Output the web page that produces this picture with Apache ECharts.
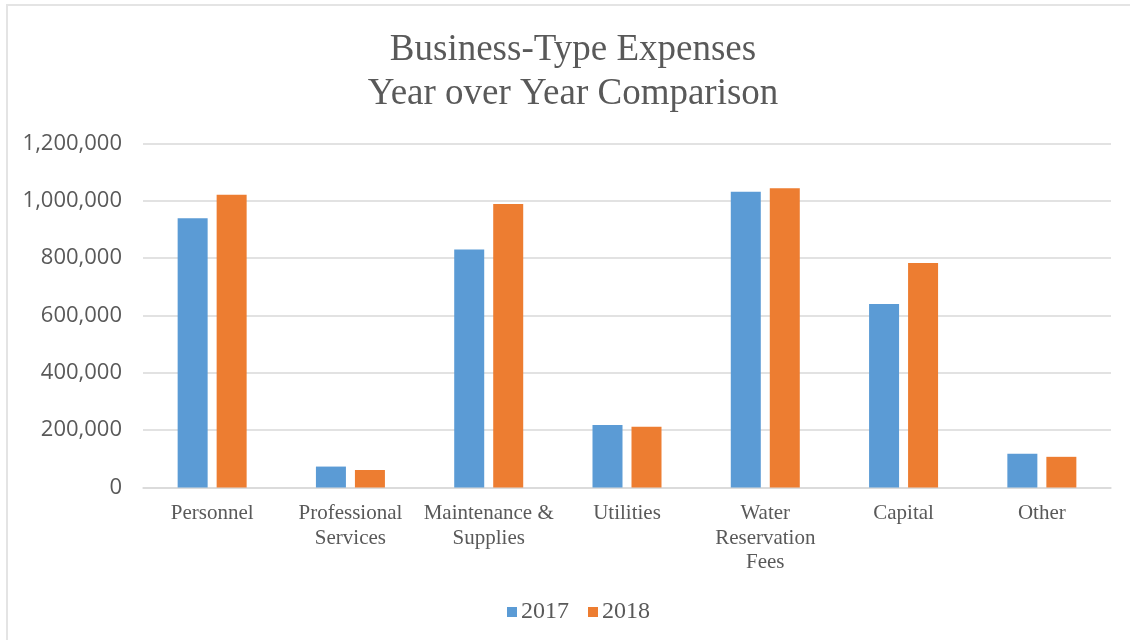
<!DOCTYPE html>
<html>
<head>
<meta charset="utf-8">
<script src="https://cdn.jsdelivr.net/npm/echarts@6/dist/echarts.min.js"></script>
<style>
  html, body { margin: 0; padding: 0; background: #fff; }
  #chart { width: 1130px; height: 640px; position: relative; }
  #frame {
    position: absolute; left: 6px; top: 4px; right: -10px; bottom: -10px;
    border-top: 2px solid #e4e4e4; border-left: 2px solid #e4e4e4;
    pointer-events: none;
  }
</style>
</head>
<body>
<div id="chart"></div>
<div id="frame"></div>
<script>
const categories = ['Personnel', 'Professional\nServices', 'Maintenance &\nSupplies', 'Utilities',
  'Water\nReservation\nFees', 'Capital', 'Other'];
const values2017 = [939000, 73000, 830000, 218000, 1032000, 640000, 118000];
const values2018 = [1021000, 61000, 989000, 212000, 1044000, 783000, 107000];
const seriesNames = ['2017', '2018'];

const serif = '"Liberation Serif", "Times New Roman", serif';
const grey = '#595959';

const chart = echarts.init(document.getElementById('chart'));

const option = {
  animation: false,
  title: {
    text: 'Business-Type Expenses\nYear over Year Comparison',
    left: 573,
    textAlign: 'center',
    top: 28,
    padding: 0,
    textStyle: {
      fontFamily: serif,
      fontSize: 37,
      lineHeight: 44,
      fontWeight: 'normal',
      color: grey
    }
  },
  legend: {
    data: seriesNames,
    bottom: 16,
    left: 507,
    padding: 0,
    itemWidth: 10,
    itemHeight: 10,
    itemGap: 19,
    icon: 'rect',
    textStyle: { fontFamily: serif, fontSize: 24, color: grey, padding: [0, 0, 0, -1] }
  },
  grid: { left: 143, right: 19, top: 143.5, bottom: 152.5 },
  xAxis: {
    type: 'category',
    data: categories,
    axisLine: { lineStyle: { color: '#d9d9d9', width: 1.5 } },
    axisTick: { show: false },
    axisLabel: {
      interval: 0,
      margin: 14,
      fontFamily: serif,
      fontSize: 21,
      lineHeight: 24.5,
      color: grey
    }
  },
  yAxis: {
    type: 'value',
    min: 0,
    max: 1200000,
    interval: 200000,
    axisLine: { show: false },
    axisTick: { show: false },
    splitLine: { lineStyle: { color: '#d9d9d9', width: 1.5 } },
    axisLabel: {
      margin: 21,
      fontFamily: '"Open Sans", sans-serif',
      fontSize: 22,
      color: grey,
      formatter: v => v.toLocaleString('en-US')
    }
  },
  series: [
    {
      name: seriesNames[0],
      type: 'bar',
      data: values2017,
      barWidth: 30,
      barGap: '30%',
      itemStyle: { color: '#5B9BD5' }
    },
    {
      name: seriesNames[1],
      type: 'bar',
      data: values2018,
      barWidth: 30,
      barGap: '30%',
      itemStyle: { color: '#ED7D31' }
    }
  ]
};

chart.setOption(option);
</script>
</body>
</html>
